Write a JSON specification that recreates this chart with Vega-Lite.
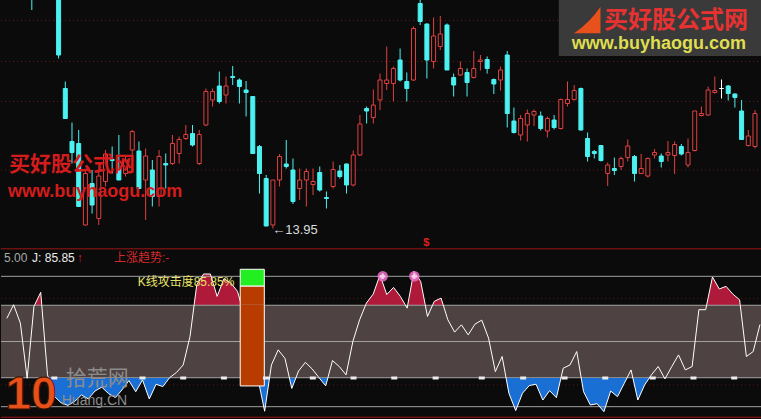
{
"$schema": "https://vega.github.io/schema/vega-lite/v6.json",
"background": "#0b0b0b",
"padding": 0,
"spacing": 0,
"bounds": "flush",
"config": {"view": {"stroke": null}, "text": {"font": "Liberation Sans, Noto Sans CJK SC"}},
"datasets": {
"k": [
{"i":0,"o":19.0,"h":19.4,"l":18.9,"c":19.3,"j":67.7},
{"i":1,"o":19.3,"h":19.7,"l":19.2,"c":19.6,"j":78.2},
{"i":2,"o":19.6,"h":19.8,"l":19.3,"c":19.4,"j":64.1},
{"i":3,"o":19.2,"h":19.3,"l":18.27,"c":18.7,"j":21.8},
{"i":4,"o":18.8,"h":19.3,"l":18.7,"c":19.2,"j":76.9},
{"i":5,"o":19.2,"h":19.6,"l":19.1,"c":19.5,"j":87.7},
{"i":6,"o":19.5,"h":19.6,"l":18.9,"c":19.0,"j":24.4},
{"i":7,"o":18.9,"h":19.0,"l":17.3,"c":17.37,"j":8},
{"i":8,"o":16.7,"h":16.84,"l":16.1,"c":16.1,"j":3},
{"i":9,"o":15.64,"h":16.02,"l":15.2,"c":15.42,"j":1},
{"i":10,"o":15.6,"h":15.87,"l":14.34,"c":14.34,"j":4},
{"i":11,"o":13.97,"h":15.07,"l":13.96,"c":15.0,"j":9},
{"i":12,"o":14.8,"h":15.07,"l":14.2,"c":14.37,"j":6},
{"i":13,"o":14.1,"h":15.07,"l":13.97,"c":14.95,"j":12},
{"i":14,"o":14.84,"h":15.47,"l":14.74,"c":15.39,"j":15},
{"i":15,"o":15.28,"h":15.54,"l":15.0,"c":15.26,"j":10},
{"i":16,"o":15.1,"h":15.77,"l":14.87,"c":14.87,"j":7},
{"i":17,"o":15.0,"h":15.34,"l":14.94,"c":15.27,"j":13},
{"i":18,"o":15.47,"h":15.87,"l":15.27,"c":15.84,"j":20},
{"i":19,"o":15.45,"h":15.64,"l":14.7,"c":14.7,"j":11.5},
{"i":20,"o":14.87,"h":15.5,"l":14.07,"c":15.35,"j":20.5},
{"i":21,"o":15.07,"h":15.27,"l":14.34,"c":14.54,"j":5.9},
{"i":22,"o":14.54,"h":15.47,"l":14.34,"c":15.34,"j":17.2},
{"i":23,"o":15.2,"h":15.4,"l":14.7,"c":15.17,"j":15.4},
{"i":24,"o":15.2,"h":15.77,"l":15.17,"c":15.6,"j":22.3},
{"i":25,"o":15.4,"h":15.74,"l":15.2,"c":15.68,"j":26.2},
{"i":26,"o":15.7,"h":15.97,"l":15.67,"c":15.78,"j":32},
{"i":27,"o":15.8,"h":15.97,"l":15.54,"c":15.57,"j":53.8},
{"i":28,"o":15.2,"h":15.87,"l":15.17,"c":15.78,"j":93.6},
{"i":29,"o":15.97,"h":16.7,"l":15.95,"c":16.64,"j":101.8},
{"i":30,"o":16.47,"h":16.7,"l":16.34,"c":16.64,"j":101.8},
{"i":31,"o":16.75,"h":17.04,"l":16.4,"c":16.44,"j":84.6},
{"i":32,"o":16.57,"h":16.94,"l":16.4,"c":16.75,"j":98.2},
{"i":33,"o":16.94,"h":17.15,"l":16.77,"c":16.92,"j":94.9},
{"i":34,"o":16.87,"h":16.9,"l":16.4,"c":16.74,"j":88.5},
{"i":35,"o":16.67,"h":16.85,"l":16.14,"c":16.62,"j":70},
{"i":36,"o":16.54,"h":16.54,"l":15.4,"c":15.4,"j":45},
{"i":37,"o":15.54,"h":15.57,"l":14.6,"c":15.0,"j":22},
{"i":38,"o":14.9,"h":14.97,"l":13.95,"c":13.95,"j":-3.5},
{"i":39,"o":13.97,"h":14.87,"l":13.9,"c":14.87,"j":32},
{"i":40,"o":14.87,"h":15.39,"l":14.74,"c":15.34,"j":43.6},
{"i":41,"o":15.19,"h":15.67,"l":15.1,"c":15.14,"j":37},
{"i":42,"o":15.07,"h":15.3,"l":14.39,"c":14.44,"j":14},
{"i":43,"o":14.7,"h":15.1,"l":14.47,"c":14.87,"j":27.4},
{"i":44,"o":14.87,"h":15.1,"l":14.34,"c":15.04,"j":34},
{"i":45,"o":14.78,"h":15.1,"l":14.57,"c":14.84,"j":29},
{"i":46,"o":15.02,"h":15.14,"l":14.64,"c":14.67,"j":22.3},
{"i":47,"o":14.52,"h":14.64,"l":14.3,"c":14.5,"j":16},
{"i":48,"o":14.74,"h":15.24,"l":14.7,"c":15.08,"j":35.4},
{"i":49,"o":15.05,"h":15.17,"l":14.9,"c":14.94,"j":30.8},
{"i":50,"o":15.19,"h":15.2,"l":14.6,"c":14.77,"j":24.4},
{"i":51,"o":14.77,"h":15.46,"l":14.74,"c":15.37,"j":50},
{"i":52,"o":15.37,"h":16.17,"l":15.35,"c":15.99,"j":66.7},
{"i":53,"o":16.3,"h":16.34,"l":16.0,"c":16.25,"j":79.5},
{"i":54,"o":16.12,"h":16.68,"l":16.0,"c":16.37,"j":86.4},
{"i":55,"o":16.47,"h":17.0,"l":16.27,"c":16.87,"j":101},
{"i":56,"o":16.8,"h":17.54,"l":16.67,"c":16.87,"j":86},
{"i":57,"o":16.8,"h":17.14,"l":16.44,"c":17.1,"j":91.5},
{"i":58,"o":17.27,"h":17.5,"l":16.84,"c":16.87,"j":84.6},
{"i":59,"o":16.84,"h":17.02,"l":16.44,"c":16.7,"j":75.6},
{"i":60,"o":16.87,"h":17.94,"l":16.85,"c":17.9,"j":104},
{"i":61,"o":18.4,"h":18.47,"l":17.97,"c":18.04,"j":96},
{"i":62,"o":17.99,"h":18.0,"l":16.9,"c":17.27,"j":69.2},
{"i":63,"o":17.24,"h":18.12,"l":17.1,"c":17.75,"j":80.8},
{"i":64,"o":17.54,"h":18.15,"l":17.47,"c":17.79,"j":83.3},
{"i":65,"o":17.97,"h":18.0,"l":17.07,"c":17.07,"j":66.7},
{"i":66,"o":16.92,"h":17.0,"l":16.54,"c":16.77,"j":57.2},
{"i":67,"o":16.97,"h":17.24,"l":16.95,"c":17.1,"j":62.8},
{"i":68,"o":17.02,"h":17.1,"l":16.54,"c":16.82,"j":55.1},
{"i":69,"o":16.92,"h":17.45,"l":16.9,"c":17.1,"j":63.3},
{"i":70,"o":17.24,"h":17.37,"l":17.06,"c":17.27,"j":66.4},
{"i":71,"o":17.28,"h":17.34,"l":17.0,"c":17.1,"j":52.6},
{"i":72,"o":16.88,"h":16.9,"l":16.59,"c":16.79,"j":26.9},
{"i":73,"o":16.87,"h":17.14,"l":16.66,"c":17.07,"j":38.5},
{"i":74,"o":17.37,"h":17.45,"l":15.92,"c":16.2,"j":10.3},
{"i":75,"o":16.05,"h":16.32,"l":15.8,"c":15.82,"j":-3},
{"i":76,"o":15.77,"h":16.17,"l":15.66,"c":16.1,"j":10.3},
{"i":77,"o":15.97,"h":16.28,"l":15.64,"c":16.2,"j":16.2},
{"i":78,"o":16.17,"h":16.28,"l":15.95,"c":16.24,"j":17.2},
{"i":79,"o":16.15,"h":16.24,"l":15.86,"c":15.9,"j":5.1},
{"i":80,"o":15.85,"h":16.14,"l":15.72,"c":16.1,"j":12.3},
{"i":81,"o":16.07,"h":16.17,"l":15.88,"c":15.92,"j":6.9},
{"i":82,"o":15.9,"h":16.5,"l":15.88,"c":16.48,"j":29.5},
{"i":83,"o":16.4,"h":16.84,"l":16.34,"c":16.48,"j":32},
{"i":84,"o":16.48,"h":16.77,"l":16.46,"c":16.66,"j":42.3},
{"i":85,"o":16.7,"h":16.72,"l":15.86,"c":15.87,"j":11.5},
{"i":86,"o":15.7,"h":15.82,"l":15.24,"c":15.34,"j":1.3},
{"i":87,"o":15.44,"h":15.47,"l":15.3,"c":15.4,"j":2.3},
{"i":88,"o":15.56,"h":15.57,"l":15.24,"c":15.26,"j":-3.8},
{"i":89,"o":15.0,"h":15.22,"l":14.75,"c":15.17,"j":12},
{"i":90,"o":15.1,"h":15.32,"l":14.97,"c":15.06,"j":7.7},
{"i":91,"o":15.14,"h":15.34,"l":15.07,"c":15.3,"j":17.9},
{"i":92,"o":15.32,"h":15.68,"l":15.24,"c":15.55,"j":28.2},
{"i":93,"o":15.34,"h":15.37,"l":14.84,"c":15.0,"j":5.1},
{"i":94,"o":15.0,"h":15.39,"l":14.99,"c":15.1,"j":16.7},
{"i":95,"o":14.95,"h":15.32,"l":14.92,"c":15.3,"j":24.4},
{"i":96,"o":15.37,"h":15.49,"l":15.3,"c":15.42,"j":30.8},
{"i":97,"o":15.35,"h":15.4,"l":15.12,"c":15.24,"j":21.3},
{"i":98,"o":15.37,"h":15.65,"l":15.24,"c":15.42,"j":30.8},
{"i":99,"o":15.36,"h":15.64,"l":14.99,"c":15.58,"j":39.7},
{"i":100,"o":15.54,"h":15.59,"l":15.36,"c":15.39,"j":28.2},
{"i":101,"o":15.17,"h":15.7,"l":15.12,"c":15.42,"j":30.8},
{"i":102,"o":15.46,"h":16.25,"l":15.44,"c":16.25,"j":74.4},
{"i":103,"o":16.16,"h":16.34,"l":16.14,"c":16.2,"j":74.4},
{"i":104,"o":16.17,"h":16.74,"l":16.15,"c":16.67,"j":99.5},
{"i":105,"o":16.62,"h":16.94,"l":16.6,"c":16.66,"j":90.3},
{"i":106,"o":16.7,"h":16.88,"l":16.5,"c":16.7,"j":92.3},
{"i":107,"o":16.75,"h":16.77,"l":16.46,"c":16.6,"j":86.4},
{"i":108,"o":16.59,"h":16.6,"l":16.32,"c":16.52,"j":82},
{"i":109,"o":16.25,"h":16.47,"l":15.67,"c":15.68,"j":38.5},
{"i":110,"o":15.56,"h":15.87,"l":15.54,"c":15.75,"j":42.3},
{"i":111,"o":15.54,"h":16.27,"l":15.5,"c":16.2,"j":63}
],
"bar": [{"x0":34.4,"x1":37.95,"base":15.9,"top":92.6,"cap":105.4}],
"dash": [{"i":7},{"i":20},{"i":26},{"i":32},{"i":38.2},{"i":45.1},{"i":51.1},{"i":57.1},{"i":63.2},{"i":70},{"i":76.1},{"i":82.2},{"i":88.2},{"i":95.2},{"i":101.2},{"i":107.2}]
},
"vconcat": [
{
"width": 761, "height": 248,
"layer": [
{"data": {"values": [{"p":18.06},{"p":17.24},{"p":16.44},{"p":15.07}]},
 "mark": {"type":"rule","color":"#5e1818","strokeDash":[1,3],"strokeWidth":1},
 "encoding": {"y": {"field":"p","type":"quantitative","scale":{"domain":[13.51,18.47],"nice":false,"zero":false},"axis":null}}},
{"data": {"name":"k"},
 "mark": {"type":"rule","clip":true,"strokeWidth":1},
 "encoding": {
  "x": {"field":"i","type":"quantitative","scale":{"domain":[-0.855,111.3],"nice":false,"zero":false},"axis":null},
  "y": {"field":"l","type":"quantitative","scale":{"domain":[13.51,18.47],"nice":false,"zero":false},"axis":null},
  "y2": {"field":"h"},
  "stroke": {"condition":[{"test":"datum.c > datum.o","value":"#e04040"},{"test":"datum.c == datum.o","value":"#ffffff"}],"value":"#4cf2f2"}}},
{"data": {"name":"k"},
 "mark": {"type":"bar","clip":true,"size":4,"strokeWidth":1},
 "encoding": {
  "x": {"field":"i","type":"quantitative","scale":{"domain":[-0.855,111.3],"nice":false,"zero":false},"axis":null},
  "y": {"field":"o","type":"quantitative","scale":{"domain":[13.51,18.47],"nice":false,"zero":false},"axis":null},
  "y2": {"field":"c"},
  "fill": {"condition":[{"test":"datum.c > datum.o","value":"#0b0b0b"},{"test":"datum.c == datum.o","value":"#ffffff"}],"value":"#4cf2f2"},
  "stroke": {"condition":[{"test":"datum.c > datum.o","value":"#e04040"},{"test":"datum.c == datum.o","value":"#ffffff"}],"value":"#4cf2f2"}}},
{"data": {"values": [{"i":-0.41,"p":15.17,"t":"买好股公式网"}]},
 "mark": {"type":"text","align":"left","baseline":"middle","fontSize":21,"fontWeight":"bold","color":"#d41c1c","font":"Noto Sans CJK SC"},
 "encoding": {
  "x": {"field":"i","type":"quantitative","scale":{"domain":[-0.855,111.3],"nice":false,"zero":false},"axis":null},
  "y": {"field":"p","type":"quantitative","scale":{"domain":[13.51,18.47],"nice":false,"zero":false},"axis":null},
  "text": {"field":"t"}}},
{"data": {"values": [{"i":-0.56,"p":14.64,"t":"www.buyhaogu.com"}]},
 "mark": {"type":"text","align":"left","baseline":"middle","fontSize":18,"fontWeight":"bold","color":"#d41c1c"},
 "encoding": {
  "x": {"field":"i","type":"quantitative","scale":{"domain":[-0.855,111.3],"nice":false,"zero":false},"axis":null},
  "y": {"field":"p","type":"quantitative","scale":{"domain":[13.51,18.47],"nice":false,"zero":false},"axis":null},
  "text": {"field":"t"}}},
{"data": {"values": [{"x0":81.7,"x1":115,"p0":17.35,"p1":19.5}]},
 "mark": {"type":"rect","clip":true,"color":"#3a3a3a"},
 "encoding": {
  "x": {"field":"x0","type":"quantitative","scale":{"domain":[-0.855,111.3],"nice":false,"zero":false},"axis":null},
  "x2": {"field":"x1"},
  "y": {"field":"p0","type":"quantitative","scale":{"domain":[13.51,18.47],"nice":false,"zero":false},"axis":null},
  "y2": {"field":"p1"}}},
{"data": {"values": [{"i":85.95,"p":18.07}]},
 "mark": {"type":"point","filled":true,"size":700,"opacity":1,"color":"#e8501c","shape":"M -1 1 L 1 1 L 1 -1 Q 0.2 0.2 -1 1 Z"},
 "encoding": {
  "x": {"field":"i","type":"quantitative","scale":{"domain":[-0.855,111.3],"nice":false,"zero":false},"axis":null},
  "y": {"field":"p","type":"quantitative","scale":{"domain":[13.51,18.47],"nice":false,"zero":false},"axis":null}}},
{"data": {"values": [{"i":99.22,"p":18.06,"t":"买好股公式网"}]},
 "mark": {"type":"text","align":"center","baseline":"middle","fontSize":24,"fontWeight":"bold","color":"#e83232","font":"Noto Sans CJK SC"},
 "encoding": {
  "x": {"field":"i","type":"quantitative","scale":{"domain":[-0.855,111.3],"nice":false,"zero":false},"axis":null},
  "y": {"field":"p","type":"quantitative","scale":{"domain":[13.51,18.47],"nice":false,"zero":false},"axis":null},
  "text": {"field":"t"}}},
{"data": {"values": [{"i":96.64,"p":17.6,"t":"www.buyhaogu.com"}]},
 "mark": {"type":"text","align":"center","baseline":"middle","fontSize":18,"fontWeight":"bold","color":"#dede50"},
 "encoding": {
  "x": {"field":"i","type":"quantitative","scale":{"domain":[-0.855,111.3],"nice":false,"zero":false},"axis":null},
  "y": {"field":"p","type":"quantitative","scale":{"domain":[13.51,18.47],"nice":false,"zero":false},"axis":null},
  "text": {"field":"t"}}},
{"data": {"values": [{"i":38.9,"p":13.87,"t":"←13.95"}]},
 "mark": {"type":"text","align":"left","baseline":"middle","fontSize":13,"color":"#dcdcdc"},
 "encoding": {
  "x": {"field":"i","type":"quantitative","scale":{"domain":[-0.855,111.3],"nice":false,"zero":false},"axis":null},
  "y": {"field":"p","type":"quantitative","scale":{"domain":[13.51,18.47],"nice":false,"zero":false},"axis":null},
  "text": {"field":"t"}}},
{"data": {"values": [{"i":61.9,"p":13.61,"t":"$"}]},
 "mark": {"type":"text","align":"center","baseline":"middle","fontSize":11,"fontWeight":"bold","color":"#e02020"},
 "encoding": {
  "x": {"field":"i","type":"quantitative","scale":{"domain":[-0.855,111.3],"nice":false,"zero":false},"axis":null},
  "y": {"field":"p","type":"quantitative","scale":{"domain":[13.51,18.47],"nice":false,"zero":false},"axis":null},
  "text": {"field":"t"}}}
]
},
{
"width": 761, "height": 57,
"layer": [
{"data": {"values": [{"v":83.1}]},
 "mark": {"type":"rule","color":"#5e1818","strokeDash":[1,3],"strokeWidth":1},
 "encoding": {"y": {"field":"v","type":"quantitative","scale":{"domain":[78,121.73],"nice":false,"zero":false},"axis":null}}},
{"data": {"name":"k"},
 "mark": {"type":"area","clip":true,"color":"#b01a3a","opacity":1},
 "encoding": {
  "x": {"field":"i","type":"quantitative","scale":{"domain":[-0.855,111.3],"nice":false,"zero":false},"axis":null},
  "y": {"field":"j","type":"quantitative","scale":{"domain":[78,121.73],"nice":false,"zero":false},"axis":null},
  "y2": {"datum":78}}},
{"data": {"values": [{"v":100}]},
 "mark": {"type":"rule","color":"#a0a0a0","strokeWidth":1},
 "encoding": {"y": {"field":"v","type":"quantitative","scale":{"domain":[78,121.73],"nice":false,"zero":false},"axis":null}}},
{"data": {"values": [{"v":121.1}]},
 "mark": {"type":"rule","color":"#9b1414","strokeWidth":1},
 "encoding": {"y": {"field":"v","type":"quantitative","scale":{"domain":[78,121.73],"nice":false,"zero":false},"axis":null}}},
{"data": {"name":"k"},
 "mark": {"type":"line","clip":true,"color":"#ffffff","strokeWidth":1},
 "encoding": {
  "x": {"field":"i","type":"quantitative","scale":{"domain":[-0.855,111.3],"nice":false,"zero":false},"axis":null},
  "y": {"field":"j","type":"quantitative","scale":{"domain":[78,121.73],"nice":false,"zero":false},"axis":null}}},
{"data": {"values": [{"i":55.4,"v":100},{"i":60.06,"v":100}]},
 "mark": {"type":"point","filled":true,"size":110,"color":"#f070c8","opacity":0.85},
 "encoding": {
  "x": {"field":"i","type":"quantitative","scale":{"domain":[-0.855,111.3],"nice":false,"zero":false},"axis":null},
  "y": {"field":"v","type":"quantitative","scale":{"domain":[78,121.73],"nice":false,"zero":false},"axis":null}}},
{"data": {"values": [{"i":55.4,"v":100},{"i":60.06,"v":100}]},
 "mark": {"type":"point","shape":"cross","filled":true,"size":30,"color":"#ffffff"},
 "encoding": {
  "x": {"field":"i","type":"quantitative","scale":{"domain":[-0.855,111.3],"nice":false,"zero":false},"axis":null},
  "y": {"field":"v","type":"quantitative","scale":{"domain":[78,121.73],"nice":false,"zero":false},"axis":null}}},
{"data": {"values": [{"i":-0.41,"v":114.3,"t":"5.00"}]},
 "mark": {"type":"text","align":"left","baseline":"middle","fontSize":12,"color":"#a8a8a8"},
 "encoding": {
  "x": {"field":"i","type":"quantitative","scale":{"domain":[-0.855,111.3],"nice":false,"zero":false},"axis":null},
  "y": {"field":"v","type":"quantitative","scale":{"domain":[78,121.73],"nice":false,"zero":false},"axis":null},
  "text": {"field":"t"}}},
{"data": {"values": [{"i":3.72,"v":114.3,"t":"J: 85.85"}]},
 "mark": {"type":"text","align":"left","baseline":"middle","fontSize":12,"color":"#ececec"},
 "encoding": {
  "x": {"field":"i","type":"quantitative","scale":{"domain":[-0.855,111.3],"nice":false,"zero":false},"axis":null},
  "y": {"field":"v","type":"quantitative","scale":{"domain":[78,121.73],"nice":false,"zero":false},"axis":null},
  "text": {"field":"t"}}},
{"data": {"values": [{"i":10.3,"v":114.3,"t":"↑"},{"i":15.8,"v":114.3,"t":"上涨趋势:-"}]},
 "mark": {"type":"text","align":"left","baseline":"middle","fontSize":12,"color":"#d42a2a"},
 "encoding": {
  "x": {"field":"i","type":"quantitative","scale":{"domain":[-0.855,111.3],"nice":false,"zero":false},"axis":null},
  "y": {"field":"v","type":"quantitative","scale":{"domain":[78,121.73],"nice":false,"zero":false},"axis":null},
  "text": {"field":"t"}}},
{"data": {"values": [{"i":19.29,"v":95.9,"t":"K线攻击度85.85%"}]},
 "mark": {"type":"text","align":"left","baseline":"middle","fontSize":12,"color":"#e8e46a"},
 "encoding": {
  "x": {"field":"i","type":"quantitative","scale":{"domain":[-0.855,111.3],"nice":false,"zero":false},"axis":null},
  "y": {"field":"v","type":"quantitative","scale":{"domain":[78,121.73],"nice":false,"zero":false},"axis":null},
  "text": {"field":"t"}}},
{"data": {"name":"bar"},
 "mark": {"type":"rect","clip":true,"fill":"#b83c00","stroke":"#ffffff","strokeWidth":1},
 "encoding": {
  "x": {"field":"x0","type":"quantitative","scale":{"domain":[-0.855,111.3],"nice":false,"zero":false},"axis":null},
  "x2": {"field":"x1"},
  "y": {"field":"base","type":"quantitative","scale":{"domain":[78,121.73],"nice":false,"zero":false},"axis":null},
  "y2": {"field":"top"}}},
{"data": {"name":"bar"},
 "mark": {"type":"rect","clip":true,"fill":"#22ee22","stroke":"#ffffff","strokeWidth":1},
 "encoding": {
  "x": {"field":"x0","type":"quantitative","scale":{"domain":[-0.855,111.3],"nice":false,"zero":false},"axis":null},
  "x2": {"field":"x1"},
  "y": {"field":"top","type":"quantitative","scale":{"domain":[78,121.73],"nice":false,"zero":false},"axis":null},
  "y2": {"field":"cap"}}}
]
},
{
"width": 761, "height": 73,
"view": {"fill": "#4e4242", "stroke": null},
"layer": [
{"data": {"values": [{"v":77.8},{"v":50},{"v":22.2}]},
 "mark": {"type":"rule","color":"#a0a0a0","strokeWidth":1},
 "encoding": {"y": {"field":"v","type":"quantitative","scale":{"domain":[22,78],"nice":false,"zero":false},"axis":null}}},
{"data": {"name":"k"},
 "mark": {"type":"line","clip":true,"color":"#ffffff","strokeWidth":1},
 "encoding": {
  "x": {"field":"i","type":"quantitative","scale":{"domain":[-0.855,111.3],"nice":false,"zero":false},"axis":null},
  "y": {"field":"j","type":"quantitative","scale":{"domain":[22,78],"nice":false,"zero":false},"axis":null}}},
{"data": {"name":"bar"},
 "mark": {"type":"rect","clip":true,"fill":"#b83c00","stroke":"#ffffff","strokeWidth":1},
 "encoding": {
  "x": {"field":"x0","type":"quantitative","scale":{"domain":[-0.855,111.3],"nice":false,"zero":false},"axis":null},
  "x2": {"field":"x1"},
  "y": {"field":"base","type":"quantitative","scale":{"domain":[22,78],"nice":false,"zero":false},"axis":null},
  "y2": {"field":"top"}}}
]
},
{
"width": 761, "height": 41,
"layer": [
{"data": {"values": [{"v":16.6}]},
 "mark": {"type":"rule","color":"#5e1818","strokeDash":[1,3],"strokeWidth":1},
 "encoding": {"y": {"field":"v","type":"quantitative","scale":{"domain":[-9.45,22],"nice":false,"zero":false},"axis":null}}},
{"data": {"name":"k"},
 "mark": {"type":"area","clip":true,"color":"#1a6fd4","opacity":1},
 "encoding": {
  "x": {"field":"i","type":"quantitative","scale":{"domain":[-0.855,111.3],"nice":false,"zero":false},"axis":null},
  "y": {"field":"j","type":"quantitative","scale":{"domain":[-9.45,22],"nice":false,"zero":false},"axis":null},
  "y2": {"datum":22}}},
{"data": {"values": [{"v":0}]},
 "mark": {"type":"rule","color":"#a0a0a0","strokeWidth":1},
 "encoding": {"y": {"field":"v","type":"quantitative","scale":{"domain":[-9.45,22],"nice":false,"zero":false},"axis":null}}},
{"data": {"values": [{"v":-8.1}]},
 "mark": {"type":"rule","color":"#9b1414","strokeWidth":1},
 "encoding": {"y": {"field":"v","type":"quantitative","scale":{"domain":[-9.45,22],"nice":false,"zero":false},"axis":null}}},
{"data": {"name":"k"},
 "mark": {"type":"line","clip":true,"color":"#ffffff","strokeWidth":1},
 "encoding": {
  "x": {"field":"i","type":"quantitative","scale":{"domain":[-0.855,111.3],"nice":false,"zero":false},"axis":null},
  "y": {"field":"j","type":"quantitative","scale":{"domain":[-9.45,22],"nice":false,"zero":false},"axis":null}}},
{"data": {"name":"bar"},
 "mark": {"type":"rect","clip":true,"fill":"#b83c00","stroke":"#ffffff","strokeWidth":1},
 "encoding": {
  "x": {"field":"x0","type":"quantitative","scale":{"domain":[-0.855,111.3],"nice":false,"zero":false},"axis":null},
  "x2": {"field":"x1"},
  "y": {"field":"base","type":"quantitative","scale":{"domain":[-9.45,22],"nice":false,"zero":false},"axis":null},
  "y2": {"field":"top"}}},
{"data": {"name":"dash"},
 "mark": {"type":"tick","orient":"horizontal","size":6,"thickness":3,"color":"#ececec","opacity":1},
 "encoding": {
  "x": {"field":"i","type":"quantitative","scale":{"domain":[-0.855,111.3],"nice":false,"zero":false},"axis":null},
  "y": {"datum":22,"type":"quantitative","scale":{"domain":[-9.45,22],"nice":false,"zero":false},"axis":null}}},
{"data": {"values": [{"i":3.57,"v":-1.8,"t":"10"}]},
 "mark": {"type":"text","align":"center","baseline":"alphabetic","fontSize":46,"fontWeight":"bold","font":"Liberation Sans","fill":"#e8501a","stroke":"#3a1000","strokeWidth":1},
 "encoding": {
  "x": {"field":"i","type":"quantitative","scale":{"domain":[-0.855,111.3],"nice":false,"zero":false},"axis":null},
  "y": {"field":"v","type":"quantitative","scale":{"domain":[-9.45,22],"nice":false,"zero":false},"axis":null},
  "text": {"field":"t"}}},
{"data": {"values": [{"i":8.7,"v":21.2,"t":"拾荒网"}]},
 "mark": {"type":"text","align":"left","baseline":"middle","fontSize":21,"color":"#8c8c8c","font":"Noto Sans CJK SC"},
 "encoding": {
  "x": {"field":"i","type":"quantitative","scale":{"domain":[-0.855,111.3],"nice":false,"zero":false},"axis":null},
  "y": {"field":"v","type":"quantitative","scale":{"domain":[-9.45,22],"nice":false,"zero":false},"axis":null},
  "text": {"field":"t"}}},
{"data": {"values": [{"i":8.1,"v":4.0,"t":"Huang.CN"}]},
 "mark": {"type":"text","align":"left","baseline":"middle","fontSize":14,"color":"#8c8c8c"},
 "encoding": {
  "x": {"field":"i","type":"quantitative","scale":{"domain":[-0.855,111.3],"nice":false,"zero":false},"axis":null},
  "y": {"field":"v","type":"quantitative","scale":{"domain":[-9.45,22],"nice":false,"zero":false},"axis":null},
  "text": {"field":"t"}}}
]
}
]
}
